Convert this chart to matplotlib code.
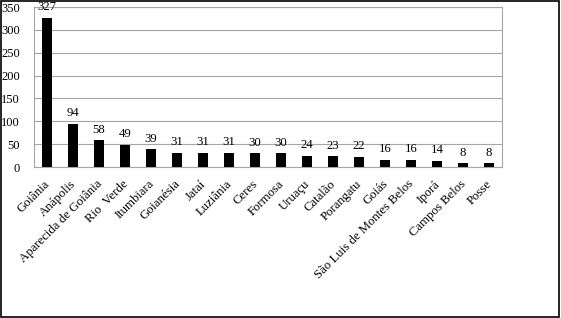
import matplotlib
matplotlib.use("Agg")
import matplotlib.pyplot as plt
import matplotlib.transforms as mtransforms
from matplotlib.patches import Rectangle

categories = ["Goiânia", "Anápolis", "Aparecida de Goiânia", "Rio  Verde", "Itumbiara",
              "Goianésia", "Jataí", "Luziânia", "Ceres", "Formosa", "Uruaçu", "Catalão",
              "Porangatu", "Goiás", "São Luis de Montes Belos", "Iporá", "Campos Belos", "Posse"]
values = [327, 94, 58, 49, 39, 31, 31, 31, 30, 30, 24, 23, 22, 16, 16, 14, 8, 8]
yticks = [0, 50, 100, 150, 200, 250, 300, 350]

plt.rcParams['font.family'] = ['Liberation Serif', 'DejaVu Serif']

fig = plt.figure(figsize=(5.61, 3.18), dpi=100)
ax = fig.add_axes([34/561, 1 - 167/318, (502-34)/561, (167-7)/318])

x = list(range(len(categories)))
ax.bar(x, values, width=0.42, color='black', zorder=3)
for xi, v in zip(x, values):
    ax.text(xi, v + 10, str(v), ha='center', va='bottom', fontsize=9.2, zorder=4)

ax.set_xlim(-0.5, len(categories) - 0.5)
ax.set_ylim(0, 350)
ax.set_yticks(yticks)
ax.set_yticklabels([str(t) for t in yticks], fontsize=9)
ax.set_xticks(x)
ax.set_xticklabels(categories, rotation=45, ha='right', rotation_mode='anchor', fontsize=9.2)
ax.tick_params(axis='x', length=0, pad=8)
ax.tick_params(axis='y', length=0, pad=10)
offset = mtransforms.ScaledTranslation(-3/100, 0, fig.dpi_scale_trans)
for lab in ax.get_xticklabels():
    lab.set_transform(lab.get_transform() + offset)
ax.grid(axis='y', color='#a6a6a6', linewidth=0.8, zorder=0)
for s in ax.spines.values():
    s.set_color('#a6a6a6')
    s.set_linewidth(0.8)

fig.patches.append(Rectangle((0.002, 0.004), 0.994, 0.992, transform=fig.transFigure,
                             fill=False, edgecolor='black', linewidth=1.2))
fig.savefig("out.png", dpi=100)
